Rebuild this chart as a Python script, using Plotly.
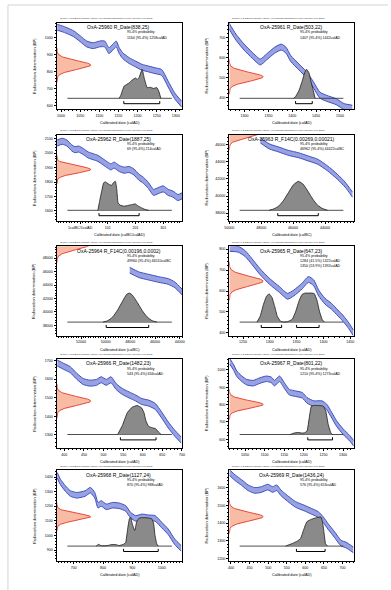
import math
import plotly.graph_objects as go

# ======================= DATA =======================
HEADER = "OxCal v4.3.2 Bronk Ramsey (2017); r:5 IntCal13 atmospheric curve (Reimer et al 2013)"
PROB = "95.4% probability"

# ---- Panel 1 ----
p1_name = "OxA-25960 R_Date(838,25)"
p1_ranges_text = ["1164 (95.4%) 1258calAD"]
p1_date = ("BP", 838, 25)
p1_cal = [990, 1003, 1015, 1033, 1050, 1067, 1084, 1101, 1114, 1125, 1135, 1144, 1152, 1161, 1178, 1195, 1212, 1229, 1246, 1263, 1280, 1297, 1315]
p1_bp = [1058, 1049, 1039, 1020, 991, 961, 951, 961, 961, 922, 942, 961, 922, 893, 864, 844, 825, 815, 805, 795, 727, 659, 611]
p1_err = 17
p1_dist_x = [1152, 1156, 1165, 1178, 1186, 1195, 1199, 1204, 1212, 1217, 1225, 1233, 1242, 1250, 1255, 1261]
p1_dist_p = [0, 0.1, 0.42, 0.53, 0.63, 0.7, 0.65, 0.72, 1.0, 0.72, 0.37, 0.38, 0.34, 0.37, 0.26, 0]
p1_from = [1164]
p1_to = [1258]
p1_xticks = [1000, 1050, 1100, 1150, 1200, 1250, 1300]
p1_xlabels = ["1000", "1050", "1100", "1150", "1200", "1250", "1300"]
p1_yticks = [600, 700, 800, 900, 1000]
p1_xtitle = "Calibrated date (calAD)"

# ---- Panel 2 ----
p2_name = "OxA-25961 R_Date(503,22)"
p2_ranges_text = ["1407 (95.4%) 1442calAD"]
p2_date = ("BP", 503, 22)
p2_cal = [1267, 1282, 1299, 1316, 1333, 1346, 1363, 1377, 1387, 1397, 1414, 1431, 1445, 1458, 1472, 1492, 1509, 1526]
p2_bp = [761, 703, 653, 612, 578, 603, 637, 653, 637, 595, 553, 511, 461, 411, 395, 378, 353, 345]
p2_err = 15
p2_dist_x = [1403, 1407, 1414, 1421, 1426, 1430, 1435, 1439, 1444, 1448]
p2_dist_p = [0, 0.06, 0.26, 0.6, 0.88, 1.0, 0.88, 0.6, 0.28, 0]
p2_from = [1407]
p2_to = [1442]
p2_xticks = [1300, 1350, 1400, 1450, 1500]
p2_xlabels = ["1300", "1350", "1400", "1450", "1500"]
p2_yticks = [400, 500, 600, 700]
p2_xtitle = "Calibrated date (calAD)"

# ---- Panel 3 ----
p3_name = "OxA-25962 R_Date(1887,25)"
p3_ranges_text = ["69 (95.4%) 214calAD"]
p3_date = ("BP", 1887, 25)
p3_cal = [-82, -64, -47, -29, -17, -5, 12, 30, 48, 65, 83, 101, 112, 124, 142, 160, 177, 195, 213, 230, 248, 266, 283, 301, 319, 336, 354, 369]
p3_bp = [2071, 2083, 2071, 2036, 2024, 2029, 2012, 1988, 1976, 1964, 1941, 1917, 1905, 1917, 1894, 1882, 1887, 1870, 1834, 1811, 1775, 1728, 1740, 1752, 1728, 1716, 1692, 1704]
p3_err = 21
p3_dist_x = [65, 71, 80, 86, 92, 100, 108, 114, 121, 128, 133, 138, 145, 160, 175, 190, 200, 210, 220, 235, 248]
p3_dist_p = [0, 0.3, 0.72, 0.95, 0.98, 0.93, 0.88, 0.86, 0.95, 1.0, 0.75, 0.25, 0.18, 0.14, 0.17, 0.2, 0.22, 0.15, 0.1, 0.03, 0]
p3_from = [69]
p3_to = [214]
p3_xticks = [1, 101, 201, 301]
p3_xlabels = ["1calBC/1calAD", "101", "201", "301"]
p3_yticks = [1600, 1700, 1800, 1900, 2000, 2100]
p3_xtitle = "Calibrated date (calBC/calAD)"

# ---- Panel 4 (calBC) ----
p4_name = "OxA-25963 R_F14C(0.00269,0.00021)"
p4_ranges_text = ["46962 (95.4%) 44422calBC"]
p4_date = ("F14C", 0.00269, 0.00021)
p4_cal = [48050, 47502, 46892, 46283, 45673, 45064, 44455, 43845, 43236, 42730, 42279]
p4_bp = [46494, 45805, 45425, 45034, 44770, 44391, 44000, 43230, 42270, 41310, 40160]
p4_err = 290
p4_dist_x = [47502, 47197, 46892, 46587, 46283, 45978, 45673, 45369, 45064, 44759, 44455, 44150, 43845]
p4_dist_p = [0, 0.05, 0.15, 0.35, 0.62, 0.88, 1.0, 0.9, 0.65, 0.38, 0.17, 0.06, 0]
p4_from = [46962]
p4_to = [44422]
p4_xticks = [50000, 48000, 46000, 44000]
p4_xlabels = ["50000", "48000", "46000", "44000"]
p4_yticks = [38000, 40000, 42000, 44000, 46000]
p4_xtitle = "Calibrated date (calBC)"

# ---- Panel 5 (calBC) ----
p5_name = "OxA-25964 R_F14C(0.00196,0.0002)"
p5_ranges_text = ["49960 (95.4%) 46510calBC"]
p5_date = ("F14C", 0.00196, 0.0002)
p5_cal = [48050, 47304, 46509, 45714, 44918, 44393, 43781]
p5_bp = [46200, 45522, 45164, 44821, 44522, 44030, 42925]
p5_err = 420
p5_dist_x = [50222, 49825, 49427, 49030, 48632, 48314, 48075, 47837, 47439, 47042, 46644, 46246, 45849]
p5_dist_p = [0, 0.05, 0.18, 0.42, 0.72, 0.95, 1.0, 0.93, 0.68, 0.4, 0.18, 0.05, 0]
p5_from = [49960]
p5_to = [46510]
p5_xticks = [52000, 50000, 48000, 46000, 44000]
p5_xlabels = ["52000", "50000", "48000", "46000", "44000"]
p5_yticks = [38000, 40000, 42000, 44000, 46000, 48000]
p5_xtitle = "Calibrated date (calBC)"

# ---- Panel 6 ----
p6_name = "OxA-25965 R_Date(647,23)"
p6_ranges_text = ["1284 (41.5%) 1322calAD", "1350 (53.9%) 1392calAD"]
p6_date = ("BP", 647, 23)
p6_cal = [1225, 1241, 1254, 1266, 1281, 1299, 1318, 1333, 1345, 1360, 1372, 1382, 1391, 1403, 1415, 1427, 1436, 1446, 1456]
p6_bp = [804, 800, 779, 743, 695, 647, 607, 575, 591, 623, 655, 639, 591, 551, 527, 495, 471, 439, 399]
p6_err = 14
p6_dist_x = [1276, 1282, 1288, 1294, 1299, 1304, 1309, 1314, 1320, 1327, 1334, 1342, 1348, 1355, 1360, 1366, 1372, 1378, 1383, 1388, 1393, 1398, 1402]
p6_dist_p = [0, 0.2, 0.6, 0.9, 0.97, 0.85, 0.55, 0.2, 0.03, 0.0, 0.02, 0.1, 0.35, 0.75, 0.95, 1.0, 1.0, 1.0, 0.98, 0.75, 0.35, 0.08, 0]
p6_from = [1284, 1350]
p6_to = [1322, 1392]
p6_xticks = [1250, 1300, 1350, 1400, 1450]
p6_xlabels = ["1250", "1300", "1350", "1400", "1450"]
p6_yticks = [400, 500, 600, 700, 800]
p6_xtitle = "Calibrated date (calAD)"

# ---- Panel 7 ----
p7_name = "OxA-25966 R_Date(1482,23)"
p7_ranges_text = ["543 (95.4%) 634calAD"]
p7_date = ("BP", 1482, 23)
p7_cal = [382, 398, 415, 432, 448, 465, 482, 494, 507, 519, 532, 548, 565, 582, 598, 615, 632, 648, 665, 682, 698]
p7_bp = [1686, 1668, 1650, 1614, 1587, 1578, 1582, 1596, 1582, 1596, 1560, 1533, 1515, 1498, 1479, 1471, 1453, 1408, 1354, 1309, 1273]
p7_err = 16
p7_dist_x = [536, 548, 561, 573, 586, 597, 603, 608, 615, 625, 633, 640, 647]
p7_dist_p = [0, 0.31, 0.76, 0.94, 1.0, 0.92, 0.76, 0.48, 0.28, 0.23, 0.2, 0.09, 0]
p7_from = [543]
p7_to = [634]
p7_xticks = [400, 450, 500, 550, 600, 650, 700]
p7_xlabels = ["400", "450", "500", "550", "600", "650", "700"]
p7_yticks = [1300, 1400, 1500, 1600, 1700]
p7_xtitle = "Calibrated date (calAD)"

# ---- Panel 8 ----
p8_name = "OxA-25967 R_Date(801,22)"
p8_ranges_text = ["1210 (95.4%) 1273calAD"]
p8_date = ("BP", 801, 22)
p8_cal = [1011, 1021, 1029, 1042, 1054, 1071, 1088, 1104, 1117, 1125, 1138, 1150, 1163, 1179, 1196, 1208, 1225, 1246, 1258, 1271, 1283, 1300, 1317, 1327]
p8_bp = [1050, 1015, 978, 949, 930, 924, 939, 949, 943, 924, 949, 911, 872, 863, 854, 825, 806, 806, 787, 739, 692, 644, 606, 577]
p8_err = 16
p8_dist_x = [1165, 1175, 1185, 1195, 1202, 1208, 1214, 1219, 1225, 1235, 1245, 1250, 1256, 1262, 1269, 1273]
p8_dist_p = [0, 0.05, 0.07, 0.05, 0.06, 0.12, 0.6, 0.97, 1.0, 1.0, 0.99, 0.97, 0.8, 0.35, 0.05, 0]
p8_from = [1210]
p8_to = [1273]
p8_xticks = [1050, 1100, 1150, 1200, 1250, 1300]
p8_xlabels = ["1050", "1100", "1150", "1200", "1250", "1300"]
p8_yticks = [600, 700, 800, 900, 1000]
p8_xtitle = "Calibrated date (calAD)"

# ---- Panel 9 ----
p9_name = "OxA-25968 R_Date(1127,24)"
p9_ranges_text = ["870 (95.4%) 988calAD"]
p9_date = ("BP", 1127, 24)
p9_cal = [644, 655, 672, 689, 711, 739, 757, 772, 783, 794, 811, 833, 855, 877, 894, 911, 933, 955, 977, 1000, 1022, 1044, 1066]
p9_bp = [1412, 1366, 1321, 1287, 1275, 1287, 1310, 1275, 1207, 1219, 1196, 1207, 1203, 1185, 1139, 1117, 1127, 1121, 1117, 1071, 1025, 957, 912]
p9_err = 19
p9_dist_x = [777, 785, 794, 816, 827, 844, 855, 869, 877, 884, 890, 894, 900, 908, 915, 924, 938, 955, 966, 972, 977, 983, 988]
p9_dist_p = [0, 0.06, 0.01, 0.02, 0.05, 0.05, 0.02, 0.06, 0.12, 0.6, 0.95, 1.0, 0.75, 0.54, 0.85, 0.97, 0.98, 0.97, 0.94, 0.8, 0.37, 0.08, 0]
p9_from = [870]
p9_to = [988]
p9_xticks = [700, 800, 900, 1000]
p9_xlabels = ["700", "800", "900", "1000"]
p9_yticks = [900, 1000, 1100, 1200, 1300, 1400]
p9_xtitle = "Calibrated date (calAD)"

# ---- Panel 10 ----
p10_name = "OxA-25969 R_Date(1436,24)"
p10_ranges_text = ["576 (95.4%) 653calAD"]
p10_date = ("BP", 1436, 24)
p10_cal = [396, 411, 429, 446, 464, 482, 499, 512, 523, 534, 556, 574, 596, 617, 635, 648, 661, 679, 696, 709, 729]
p10_bp = [1686, 1657, 1629, 1600, 1585, 1590, 1604, 1590, 1600, 1572, 1533, 1505, 1486, 1466, 1448, 1419, 1381, 1333, 1286, 1276, 1248]
p10_err = 16
p10_dist_x = [547, 565, 578, 587, 595, 604, 617, 630, 642, 646, 651, 654, 659]
p10_dist_p = [0, 0.09, 0.17, 0.26, 0.55, 0.84, 0.93, 0.98, 1.0, 0.84, 0.38, 0.09, 0]
p10_from = [576]
p10_to = [653]
p10_xticks = [400, 450, 500, 550, 600, 650, 700]
p10_xlabels = ["400", "450", "500", "550", "600", "650", "700"]
p10_yticks = [1200, 1300, 1400, 1500, 1600]
p10_xtitle = "Calibrated date (calAD)"

# ======================= LAYOUT / STYLE =======================
WPX, HPX = 391, 590
FONT = "Arial, Liberation Sans, Helvetica, sans-serif"
COL_L = [53, 229]
COL_R = [181, 356]
ROW_T = [22.5, 134.5, 246.3, 358.7, 470.3]
ROW_B = [109, 221, 335.5, 448, 561]
BASE_FROM_TOP = 75.8   # px from plot top to distribution baseline
PEAK_PX = 29.0         # px height of a distribution with density 1
RED_PEAK_PX = 34.5     # px width of measurement gaussian peak
CURVE_LINE = "#3f4fc2"
CURVE_FILL = "#98a2e0"
RED_LINE = "#e6372b"
RED_FILL = "#f8bca4"
DIST_FILL = "#8a8a8a"

# axis view extents & minor tick steps (per panel)
views = [
    dict(xr=[989, 1317], yr=[582, 1086], xm=10, ym=20, x0=0),
    dict(xr=[1268, 1529], yr=[341, 777], xm=10, ym=20, x0=0),
    dict(xr=[-83, 370], yr=[1529, 2130], xm=10, ym=20, x0=1),
    dict(xr=[50000, 42200], yr=[37080, 47184], xm=200, ym=400, x0=0),
    dict(xr=[53960, 43785], yr=[36507, 49746], xm=200, ym=400, x0=0),
    dict(xr=[1224.4, 1456.6], yr=[387, 814], xm=10, ym=20, x0=0),
    dict(xr=[381, 701], yr=[1230, 1709], xm=10, ym=20, x0=0),
    dict(xr=[1010, 1327], yr=[550, 1065], xm=10, ym=20, x0=0),
    dict(xr=[643, 1070], yr=[825, 1446], xm=10, ym=20, x0=0),
    dict(xr=[395.5, 730], yr=[1185, 1699], xm=10, ym=20, x0=0),
]

panels = []
for k in range(1, 11):
    g = globals()
    panels.append(dict(
        name=g[f"p{k}_name"], rtext=g[f"p{k}_ranges_text"], date=g[f"p{k}_date"],
        cal=g[f"p{k}_cal"], bp=g[f"p{k}_bp"], err=g[f"p{k}_err"],
        dx=g[f"p{k}_dist_x"], dp=g[f"p{k}_dist_p"],
        rf=g[f"p{k}_from"], rt=g[f"p{k}_to"],
        xt=g[f"p{k}_xticks"], xtl=g[f"p{k}_xlabels"], yt=g[f"p{k}_yticks"],
        xtitle=g[f"p{k}_xtitle"]))


def aid(n):
    return "" if n == 1 else str(n)


def measurement_curve(date):
    kind, m, s = date
    ts = [-4 + 8 * j / 200 for j in range(201)]
    dens = [math.exp(-t * t / 2) for t in ts]
    if kind == "BP":
        ys = [m + s * t for t in ts]
    else:
        ys = [-8033 * math.log(max(m + s * t, 1e-9)) for t in ts]
    return dens, ys


fig = go.Figure()
layout = dict(width=WPX, height=HPX, margin=dict(l=0, r=0, t=0, b=0),
              paper_bgcolor="white", plot_bgcolor="white", showlegend=False,
              hovermode=False, font=dict(family=FONT, color="black"))
annotations = []

axis_style = dict(showline=True, mirror=True, linecolor="black", linewidth=0.8,
                  ticks="outside", ticklen=2.5, tickwidth=0.6, tickcolor="black",
                  showgrid=False, zeroline=False,
                  tickfont=dict(size=3.6, family=FONT, color="black"))

for i, (p, v) in enumerate(zip(panels, views)):
    r, c = divmod(i, 2)
    L, R, T, B = COL_L[c], COL_R[c], ROW_T[r], ROW_B[r]
    xd = [L / WPX, R / WPX]
    yd = [1 - B / HPX, 1 - T / HPX]
    a, b = 2 * i + 1, 2 * i + 2
    xa, ya, xb, yb = "x" + aid(a), "y" + aid(a), "x" + aid(b), "y" + aid(b)
    H = B - T

    layout["xaxis" + aid(a)] = dict(
        domain=xd, anchor=ya, range=v["xr"], tickmode="array",
        tickvals=p["xt"], ticktext=p["xtl"],
        minor=dict(tickmode="linear", tick0=v["x0"], dtick=v["xm"], ticks="outside",
                   ticklen=1.3, tickwidth=0.5, tickcolor="black", showgrid=False),
        **axis_style)
    layout["yaxis" + aid(a)] = dict(
        domain=yd, anchor=xa, range=v["yr"], tickmode="array",
        tickvals=p["yt"], ticktext=[str(t) for t in p["yt"]],
        minor=dict(tickmode="linear", tick0=0, dtick=v["ym"], ticks="outside",
                   ticklen=1.3, tickwidth=0.5, tickcolor="black", showgrid=False),
        **axis_style)
    layout["xaxis" + aid(b)] = dict(domain=xd, anchor=ya, overlaying=xa,
                                    range=[0, (R - L) / RED_PEAK_PX], visible=False)
    layout["yaxis" + aid(b)] = dict(domain=yd, anchor=xa, overlaying=ya,
                                    range=[-(H - BASE_FROM_TOP) / PEAK_PX, BASE_FROM_TOP / PEAK_PX],
                                    visible=False)

    # calibration curve band
    lo = [y - p["err"] for y in p["bp"]]
    hi = [y + p["err"] for y in p["bp"]]
    fig.add_trace(go.Scatter(x=p["cal"], y=lo, mode="lines", xaxis=xa, yaxis=ya,
                             line=dict(color=CURVE_LINE, width=1, shape="spline", smoothing=0.6),
                             hoverinfo="skip"))
    fig.add_trace(go.Scatter(x=p["cal"], y=hi, mode="lines", xaxis=xa, yaxis=ya,
                             fill="tonexty", fillcolor=CURVE_FILL,
                             line=dict(color=CURVE_LINE, width=1, shape="spline", smoothing=0.6),
                             hoverinfo="skip"))

    # measurement gaussian (red)
    dens, ys = measurement_curve(p["date"])
    fig.add_trace(go.Scatter(x=dens, y=ys, mode="lines", xaxis=xb, yaxis=ya,
                             fill="tozerox", fillcolor=RED_FILL,
                             line=dict(color=RED_LINE, width=0.9), hoverinfo="skip"))

    # baseline across the middle 10/12 of the axis
    x0, x1 = v["xr"]
    span = x1 - x0
    fig.add_trace(go.Scatter(x=[x0 + span / 12, x1 - span / 12], y=[0, 0], mode="lines",
                             xaxis=xa, yaxis=yb, line=dict(color="#3a3a3a", width=0.9),
                             hoverinfo="skip"))
    # calibrated distribution
    fig.add_trace(go.Scatter(x=p["dx"], y=p["dp"], mode="lines", xaxis=xa, yaxis=yb,
                             fill="tozeroy", fillcolor=DIST_FILL,
                             line=dict(color="#1a1a1a", width=0.8, shape="spline", smoothing=0.4),
                             hoverinfo="skip"))
    # 95.4% range brackets
    bx, by = [], []
    ylow, yup = -5.4 / PEAK_PX, -2.8 / PEAK_PX
    for f, t in zip(p["rf"], p["rt"]):
        bx += [f, f, t, t, None]
        by += [yup, ylow, ylow, yup, None]
    fig.add_trace(go.Scatter(x=bx, y=by, mode="lines", xaxis=xa, yaxis=yb,
                             line=dict(color="black", width=1), hoverinfo="skip"))

    # texts
    def pap(px, py):
        return px / WPX, 1 - py / HPX
    hx, hy = pap(L + 1, T - 0.6)
    annotations.append(dict(x=hx, y=hy, xref="paper", yref="paper", text=HEADER,
                            showarrow=False, xanchor="left", yanchor="bottom",
                            font=dict(size=2.4, color="#333333", family=FONT)))
    tx, ty = pap(L + 63, T + 4.4)
    annotations.append(dict(x=tx, y=ty, xref="paper", yref="paper", text=p["name"],
                            showarrow=False, xanchor="center", yanchor="middle",
                            font=dict(size=5, family=FONT)))
    for j, line in enumerate([PROB] + p["rtext"]):
        lx, ly = pap(L + 70, T + 10 + 5 * j)
        annotations.append(dict(x=lx, y=ly, xref="paper", yref="paper", text=line,
                                showarrow=False, xanchor="left", yanchor="middle",
                                font=dict(size=3.6, family=FONT)))
    ax_, ay_ = pap((L + R) / 2, B + 14)
    annotations.append(dict(x=ax_, y=ay_, xref="paper", yref="paper", text=p["xtitle"],
                            showarrow=False, xanchor="center", yanchor="middle",
                            font=dict(size=3.8, family=FONT)))
    yx_, yy_ = pap(L - 23, (T + B) / 2)
    annotations.append(dict(x=yx_, y=yy_, xref="paper", yref="paper",
                            text="Radiocarbon determination (BP)", textangle=-90,
                            showarrow=False, xanchor="center", yanchor="middle",
                            font=dict(size=3.9, family=FONT)))

layout["annotations"] = annotations
layout["shapes"] = [
    dict(type="line", xref="paper", yref="paper", x0=3 / WPX, x1=1, y0=1 - 5 / HPX, y1=1 - 5 / HPX,
         line=dict(color="#d4d4d4", width=1)),
    dict(type="line", xref="paper", yref="paper", x0=3 / WPX, x1=3 / WPX, y0=0, y1=1 - 5 / HPX,
         line=dict(color="#d4d4d4", width=1)),
]
fig.update_layout(**layout)
fig.write_html(
    "out.html",
    config={"displayModeBar": False},
    post_script="document.body.style.margin='0px';document.body.style.overflow='hidden';",
)
